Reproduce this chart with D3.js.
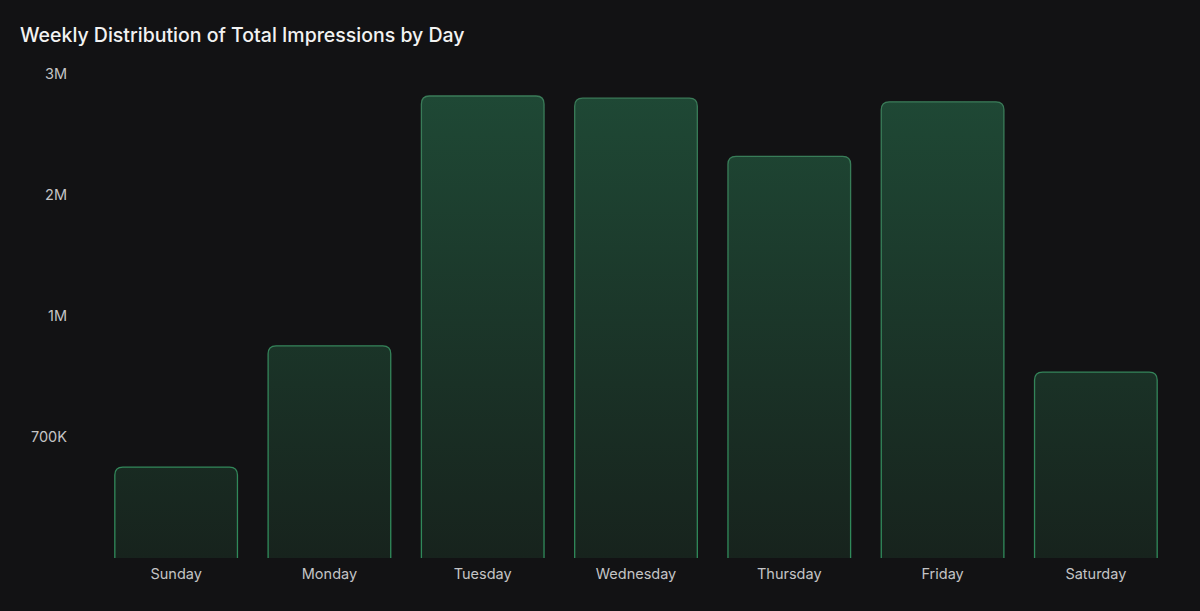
<!DOCTYPE html>
<html><head><meta charset="utf-8">
<script src="https://cdn.jsdelivr.net/npm/d3@7"></script>
<style>
html,body{margin:0;padding:0;background:#121214;}
svg{display:block;font-family:Inter,"Noto Sans",sans-serif;}
</style></head><body>
<svg id="c" width="1200" height="611"></svg>
<script>
const days = ["Sunday","Monday","Tuesday","Wednesday","Thursday","Friday","Saturday"];
const impressions = [526000, 926000, 2818000, 2800000, 2320000, 2770000, 861000];
const tickValues = [700000, 1000000, 2000000, 3000000];
const tickLabels = ["700K","1M","2M","3M"];
const scaleStops = [0, 700000, 1000000, 2000000, 3000000];

(function(){
const svg = d3.select("#c");
const plotTop = 74, plotBottom = 558, plotLeft = 99.5, plotRight = 1172.5;

const x = d3.scaleBand().domain(days).range([plotLeft, plotRight]).paddingInner(0.2).paddingOuter(0.1);
const stepPx = (plotBottom - plotTop) / (scaleStops.length - 1);
const y = d3.scaleLinear().domain(scaleStops).range(scaleStops.map((d,i)=>plotBottom - i*stepPx));

const defs = svg.append("defs");
const g1 = defs.append("linearGradient").attr("id","fillg").attr("gradientUnits","userSpaceOnUse")
  .attr("x1",0).attr("x2",0).attr("y1",plotTop).attr("y2",plotBottom);
g1.append("stop").attr("offset","0%").attr("stop-color","#1f4a36");
g1.append("stop").attr("offset","100%").attr("stop-color","#17231d");
const g2 = defs.append("linearGradient").attr("id","strokeg").attr("gradientUnits","userSpaceOnUse")
  .attr("x1",0).attr("x2",0).attr("y1",plotTop).attr("y2",plotBottom);
g2.append("stop").attr("offset","0%").attr("stop-color","#3a7a58");
g2.append("stop").attr("offset","100%").attr("stop-color","#2f8a5a");

svg.append("text").attr("x",20).attr("y",42).attr("fill","#f2f2f2")
  .attr("font-size",19.5).attr("font-weight",500).text("Weekly Distribution of Total Impressions by Day");

const yAxis = d3.axisLeft(y).tickValues(tickValues).tickFormat((d,i)=>tickLabels[i]).tickSize(0).tickPadding(0);
const ya = svg.append("g").attr("transform","translate(67,0)").call(yAxis);
ya.select(".domain").remove();
ya.selectAll("text").attr("fill","#c4c4c6").attr("font-size",14.5).attr("font-family","Inter,'Noto Sans',sans-serif");

const r = 8;
function barPath(d){
  const x0 = x(d.day), w = x.bandwidth(), y0 = y(d.v), y1 = plotBottom;
  return `M${x0},${y1} L${x0},${y0+r} Q${x0},${y0} ${x0+r},${y0} L${x0+w-r},${y0} Q${x0+w},${y0} ${x0+w},${y0+r} L${x0+w},${y1}`;
}
const data = days.map((d,i)=>({day:d, v:impressions[i]}));
svg.append("g").selectAll("path").data(data).join("path")
  .attr("d", barPath)
  .attr("fill","url(#fillg)")
  .attr("stroke","url(#strokeg)")
  .attr("stroke-width",1.3);

const xAxis = d3.axisBottom(x).tickSize(0).tickPadding(0);
const xa = svg.append("g").attr("transform",`translate(0,${plotBottom})`).call(xAxis);
xa.select(".domain").remove();
xa.selectAll("text").attr("fill","#c4c4c6").attr("font-size",14.5).attr("dy","1.45em")
  .attr("font-family","Inter,'Noto Sans',sans-serif");
})();
</script>
</body></html>
